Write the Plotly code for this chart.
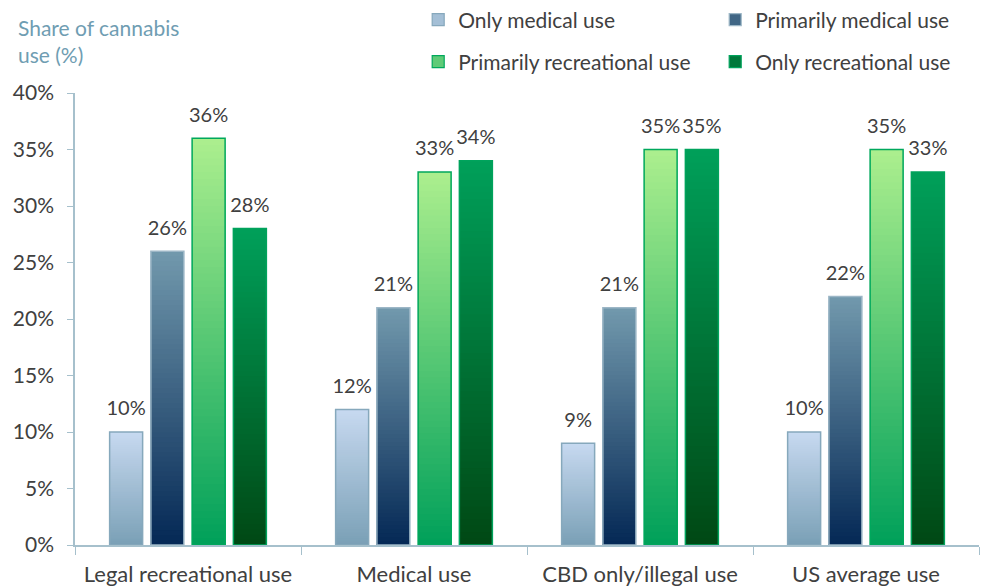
import plotly.graph_objects as go

categories = ["Legal recreational use", "Medical use", "CBD only/illegal use", "US average use"]
series_names = ["Only medical use", "Primarily medical use",
                "Primarily recreational use", "Only recreational use"]
only_medical = [10, 12, 9, 10]
primarily_medical = [26, 21, 21, 22]
primarily_recreational = [36, 33, 35, 35]
only_recreational = [28, 34, 35, 33]
y_ticks = [0, 5, 10, 15, 20, 25, 30, 35, 40]

series_values = [only_medical, primarily_medical, primarily_recreational, only_recreational]
# (top colour, bottom colour, outline colour) of each vertical gradient
styles = [
    ((199, 217, 240), (122, 160, 182), "#86a8bc"),
    ((114, 153, 173), (4, 40, 85), "#9cb6c6"),
    ((172, 239, 142), (0, 160, 90), "#00a85c"),
    ((0, 160, 90), (0, 72, 20), "#00a35c"),
]
# legend rows: first two series on the top row, last two below
legend_rows = ["legend", "legend", "legend2", "legend2"]
N_STEPS = 60
BAR_GAP = 0.27


def mix(c1, c2, t):
    return "rgb(%d,%d,%d)" % tuple(round(a + (b - a) * t) for a, b in zip(c1, c2))


fig = go.Figure()
for s, (name, vals, (top, bottom, edge)) in enumerate(zip(series_names, series_values, styles)):
    # gradient body: nested bars from the base, each shorter one painted
    # over the previous with a darker shade
    for k in range(N_STEPS):
        frac = (N_STEPS - k) / N_STEPS
        col = mix(bottom, top, (N_STEPS - k - 0.5) / N_STEPS)
        fig.add_trace(go.Bar(
            x=categories,
            y=[v * frac for v in vals],
            offsetgroup=str(s),
            marker=dict(color=col, line=dict(width=0)),
            showlegend=False, hoverinfo="skip",
        ))
    # outline of each bar
    fig.add_trace(go.Bar(
        x=categories, y=vals, offsetgroup=str(s), name=name,
        marker=dict(color="rgba(0,0,0,0)", line=dict(color=edge, width=1.5)),
        showlegend=False,
    ))
    # value label above each bar (grouped scatter aligned with the bars)
    fig.add_trace(go.Scatter(
        x=categories, y=vals, offsetgroup=str(s), mode="markers+text",
        text=[f"{v}%" for v in vals], textposition="top center",
        marker=dict(size=17, opacity=0), cliponaxis=False,
        textfont=dict(size=20, color="#404040", family="Lato"),
        showlegend=False, hoverinfo="skip",
    ))
    # legend entry
    fig.add_trace(go.Bar(
        x=[None], y=[None], name=name, offsetgroup=str(s), legend=legend_rows[s],
        marker=dict(color=mix(bottom, top, 0.55), line=dict(color=edge, width=1.2)),
        showlegend=True,
    ))

legend_style = dict(orientation="h", xref="container", x=0.425, xanchor="left",
                    yref="container", yanchor="middle", entrywidth=252,
                    traceorder="normal", font=dict(size=21, color="#404040"),
                    itemwidth=30, bgcolor="rgba(0,0,0,0)")

fig.update_layout(
    width=984, height=588,
    margin=dict(l=75, r=5, t=93, b=43, autoexpand=False),
    paper_bgcolor="white", plot_bgcolor="white",
    barmode="group", bargap=BAR_GAP, bargroupgap=0.2,
    scattermode="group", scattergap=BAR_GAP,
    font=dict(family="Lato", color="#404040", size=20),
    legend=dict(legend_style, y=1 - 20 / 588),
    legend2=dict(legend_style, y=1 - 62 / 588),
    xaxis=dict(showline=True, linecolor="#a6c0cc", linewidth=1.5,
               ticks="outside", tickson="boundaries", ticklen=8, tickcolor="#a6c0cc",
               ticklabelstandoff=9,
               tickfont=dict(size=22, color="#404040"), showgrid=False),
    yaxis=dict(range=[0, 40], tickvals=y_ticks, ticktext=[f"{v}%" for v in y_ticks],
               showline=True, linecolor="#a6c0cc", linewidth=1.5,
               ticks="outside", ticklen=6, tickcolor="#a6c0cc", ticklabelstandoff=9,
               tickfont=dict(size=21, color="#404040"), showgrid=False, zeroline=False),
    annotations=[dict(text="Share of cannabis<br>use (%)", xref="paper", yref="paper",
                      x=-0.065, y=1.178, xanchor="left", yanchor="top", align="left",
                      showarrow=False, font=dict(size=21, color="#6f9db2"))],
)

fig.write_html("out.html")
